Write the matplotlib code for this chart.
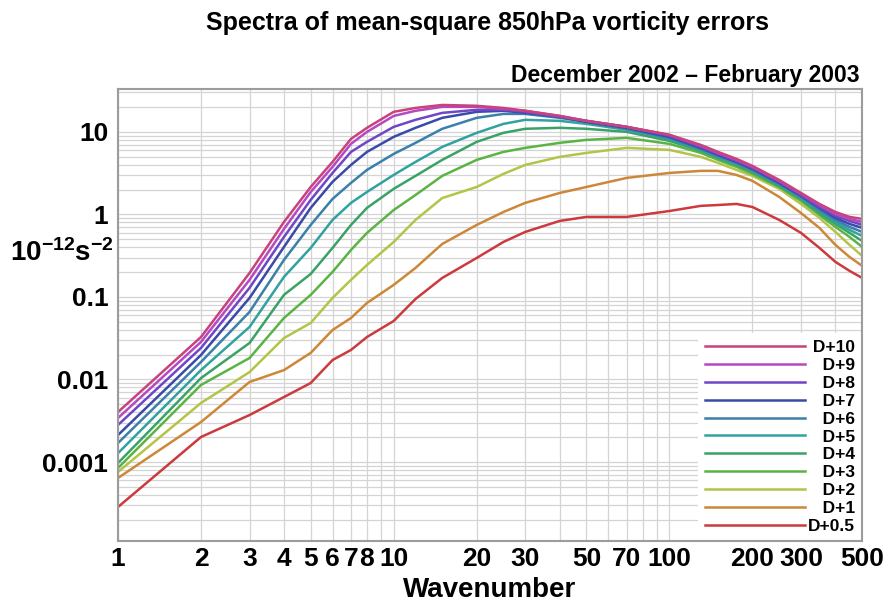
import matplotlib
matplotlib.use("Agg")
import matplotlib.pyplot as plt
from matplotlib.ticker import FixedLocator, FixedFormatter, LogLocator, NullFormatter
from matplotlib.font_manager import FontProperties

plt.rcParams["font.family"] = ["Liberation Sans", "DejaVu Sans"]
plt.rcParams["font.weight"] = "bold"
plt.rcParams["mathtext.fontset"] = "custom"
plt.rcParams["mathtext.rm"] = "Liberation Sans:bold"
plt.rcParams["mathtext.it"] = "Liberation Sans:bold"
plt.rcParams["mathtext.bf"] = "Liberation Sans:bold"

# Spherical-harmonic total wavenumber
wavenumber = [1, 2, 3, 4, 5, 6, 7, 8, 10, 12, 15, 20, 25, 30, 40, 50, 70, 100,
              130, 150, 175, 200, 250, 300, 350, 400, 450, 500]

# Mean-square 850 hPa vorticity error spectra (10^-12 s^-2), DJF 2002/03
err_d10 = [0.00403, 0.0327, 0.195, 0.811, 2.15, 4.33, 8.22, 11.2, 17.5, 19.5, 21.2, 20.7, 19.5, 18.0,
           15.6, 13.6, 11.5, 9.20, 6.95, 5.72, 4.71, 3.87, 2.62, 1.82, 1.34, 1.07, 0.933, 0.882]
err_d9 = [0.00341, 0.0285, 0.161, 0.667, 1.87, 3.77, 7.16, 10.0, 15.6, 18.0, 20.1, 20.1, 19.0, 18.0,
          15.6, 13.6, 11.5, 9.20, 6.76, 5.56, 4.58, 3.77, 2.55, 1.77, 1.30, 1.01, 0.882, 0.811]
err_d8 = [0.00281, 0.0241, 0.129, 0.534, 1.50, 3.18, 5.72, 7.57, 11.5, 14.0, 17.0, 18.5, 18.5, 17.5,
          15.2, 13.6, 11.5, 8.95, 6.58, 5.41, 4.45, 3.66, 2.48, 1.72, 1.23, 0.959, 0.834, 0.746]
err_d7 = [0.00212, 0.0198, 0.0973, 0.404, 1.20, 2.48, 3.98, 5.72, 8.70, 11.2, 14.8, 17.5, 18.0, 17.0,
          15.2, 13.2, 11.2, 8.70, 6.40, 5.26, 4.33, 3.56, 2.41, 1.68, 1.20, 0.907, 0.767, 0.686]
err_d6 = [0.00170, 0.0163, 0.0658, 0.281, 0.746, 1.54, 2.41, 3.46, 5.41, 7.36, 10.9, 14.8, 16.5, 16.5,
          14.8, 13.2, 10.9, 8.46, 6.22, 5.12, 4.21, 3.46, 2.34, 1.63, 1.13, 0.858, 0.705, 0.614]
err_d5 = [0.00128, 0.0130, 0.0433, 0.175, 0.393, 0.858, 1.38, 1.87, 3.01, 4.33, 6.58, 9.73, 12.5, 14.0,
          13.6, 12.5, 10.6, 8.22, 6.05, 4.98, 4.09, 3.37, 2.28, 1.58, 1.10, 0.811, 0.649, 0.549]
err_d4 = [0.000972, 0.0104, 0.0277, 0.106, 0.190, 0.393, 0.746, 1.20, 2.04, 2.93, 4.58, 7.57, 9.73, 10.9,
          11.2, 10.9, 10.0, 7.78, 5.89, 4.84, 3.98, 3.27, 2.21, 1.54, 1.04, 0.767, 0.597, 0.477]
err_d3 = [0.000846, 0.00858, 0.0182, 0.0556, 0.106, 0.201, 0.371, 0.597, 1.13, 1.72, 2.93, 4.58, 5.72, 6.40,
          7.36, 8.00, 8.46, 7.16, 5.56, 4.58, 3.77, 3.10, 2.15, 1.46, 0.986, 0.705, 0.534, 0.404]
err_d2 = [0.000757, 0.00519, 0.0123, 0.0318, 0.0484, 0.0973, 0.161, 0.244, 0.464, 0.858, 1.58, 2.15, 3.10, 3.98,
          4.98, 5.56, 6.40, 6.05, 4.98, 4.21, 3.46, 2.93, 2.04, 1.34, 0.907, 0.614, 0.427, 0.314]
err_d1 = [0.000640, 0.00305, 0.00933, 0.0130, 0.0210, 0.0398, 0.0556, 0.0846, 0.140, 0.225, 0.439, 0.746, 1.07, 1.38,
          1.82, 2.15, 2.77, 3.18, 3.37, 3.37, 3.01, 2.55, 1.63, 1.04, 0.686, 0.427, 0.305, 0.238]
err_d05 = [0.000285, 0.00201, 0.00371, 0.00613, 0.00907, 0.0172, 0.0228, 0.0327, 0.0512, 0.0946, 0.170, 0.297, 0.464, 0.614,
           0.834, 0.933, 0.933, 1.10, 1.27, 1.30, 1.34, 1.23, 0.858, 0.597, 0.393, 0.266, 0.207, 0.170]

series = [err_d10, err_d9, err_d8, err_d7, err_d6, err_d5, err_d4, err_d3, err_d2, err_d1, err_d05]
series_labels = ["D+10", "D+9", "D+8", "D+7", "D+6", "D+5", "D+4", "D+3", "D+2", "D+1", "D+0.5"]
series_colors = ["#c8427c", "#b648c2", "#7046c6", "#3a4aa8", "#3a80aa", "#30a2a0",
                 "#3aa266", "#5ab444", "#b4c448", "#cc8838", "#cc3a3e"]

x_ticks = [1, 2, 3, 4, 5, 6, 7, 8, 10, 20, 30, 50, 70, 100, 200, 300, 500]
x_tick_labels = ["1", "2", "3", "4", "5", "6", "7", "8", "10", "20", "30", "50", "70",
                 "100", "200", "300", "500"]
y_ticks = [0.001, 0.01, 0.1, 1, 10]
y_tick_labels = ["0.001", "0.01", "0.1", "1", "10"]

fig = plt.figure(figsize=(8.87, 6.06), dpi=100)
ax = fig.add_axes([0.133, 0.107, 0.839, 0.746])
ax.set_xscale("log")
ax.set_yscale("log")
ax.set_xlim(1, 500)
ax.set_ylim(1.1e-4, 33)

handles = {}
for vals, lab, col in reversed(list(zip(series, series_labels, series_colors))):
    (ln,) = ax.plot(wavenumber, vals, color=col, lw=1.8, solid_joinstyle="round")
    handles[lab] = ln

ax.xaxis.set_major_locator(FixedLocator(x_ticks))
ax.xaxis.set_major_formatter(FixedFormatter(x_tick_labels))
ax.xaxis.set_minor_locator(LogLocator(base=10, subs=range(1, 10), numticks=20))
ax.xaxis.set_minor_formatter(NullFormatter())
ax.yaxis.set_major_locator(FixedLocator(y_ticks))
ax.yaxis.set_major_formatter(FixedFormatter(y_tick_labels))
ax.yaxis.set_minor_locator(LogLocator(base=10, subs=range(1, 10), numticks=20))
ax.yaxis.set_minor_formatter(NullFormatter())

ax.grid(True, which="both", color="#d4d4d4", lw=0.9)
ax.set_axisbelow(True)
ax.tick_params(which="both", length=0)
ax.tick_params(axis="x", labelsize=19, pad=4)
ax.tick_params(axis="y", labelsize=19, pad=7)
for t in ax.get_xticklabels() + ax.get_yticklabels():
    t.set_fontweight("bold")

for sp in ax.spines.values():
    sp.set_color("#9c9c9c")
    sp.set_linewidth(1.5)
    sp.set_zorder(6)

# Right-align the legend labels by padding with spaces to a common width
leg_font = FontProperties(family=["Liberation Sans", "DejaVu Sans"], weight="bold", size=12.5)
renderer = fig.canvas.get_renderer()
def text_width(s):
    return renderer.get_text_width_height_descent(s, leg_font, ismath=False)[0]
space_w = text_width("a a") - text_width("aa")
max_w = max(text_width(s) for s in series_labels)
padded = [" " * int(round((max_w - text_width(s)) / space_w)) + s for s in series_labels]

leg = ax.legend([handles[s] for s in series_labels], padded, loc="lower right",
                bbox_to_anchor=(1.0, 0.0), borderaxespad=0.0, prop=leg_font,
                frameon=True, fancybox=False, framealpha=1.0, facecolor="white",
                edgecolor="none", handlelength=5.8, handletextpad=0.15,
                labelspacing=0.16, borderpad=0.4)

fig.text(0.55, 0.962, "Spectra of mean-square 850hPa vorticity errors",
         ha="center", va="center", fontsize=18, fontweight="bold")
fig.text(0.9695, 0.876, "December 2002 \u2013 February 2003",
         ha="right", va="center", fontsize=16.5, fontweight="bold")
fig.text(0.552, 0.026, "Wavenumber", ha="center", va="center",
         fontsize=20, fontweight="bold")
fig.text(0.011, 0.582, r"$10^{-12}$s$^{-2}$", ha="left", va="center", fontsize=20)

fig.savefig("out.png", dpi=100, facecolor="white")
